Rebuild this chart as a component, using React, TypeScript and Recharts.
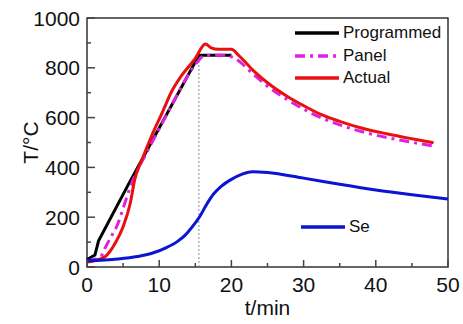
import { LineChart, Line, XAxis, YAxis, ReferenceArea, ReferenceLine, Label } from "recharts";

const progT = [0, 1.1, 1.6, 5.7, 15.5, 20];
const progV = [30, 48, 105, 330, 850, 850];

const panelT = [0, 1, 2, 2.5, 3.3, 4.1, 5.3, 6, 7, 8, 10, 12, 14, 15.2, 16.3, 19, 20.5, 23, 25, 27.7, 30, 32.3, 35, 38, 41.5, 45, 48];
const panelV = [25, 30, 45, 76, 120, 162, 262, 322, 390, 445, 555, 665, 770, 820, 850, 850, 838, 775, 726, 673, 634, 601, 571, 544, 520, 501, 486];

const actualT = [0, 1, 2.5, 3.9, 5, 6, 6.6, 7.6, 9, 10.5, 11.7, 13, 15, 16.4, 17.2, 18.2, 20, 21, 23, 25, 27.7, 30, 32.3, 35, 38, 41.5, 45, 48];
const actualV = [20, 25, 41, 95, 162, 257, 350, 430, 530, 625, 704, 765, 838, 896, 880, 874, 874, 850, 790, 740, 686, 648, 614, 585, 558, 535, 515, 499];

const seT = [0, 4.3, 7, 9, 11, 12.5, 13.6, 14.6, 15.6, 16.5, 17.5, 18.5, 20, 21.5, 22.9, 25, 30, 35, 40, 45, 50];
const seV = [25, 32, 42, 55, 78, 102, 128, 162, 202, 248, 292, 322, 352, 373, 383, 380, 357, 332, 309, 290, 273];

const xTicks = [0, 5, 10, 15, 20, 25, 30, 35, 40, 45, 50];
const yTicks = [0, 100, 200, 300, 400, 500, 600, 700, 800, 900, 1000];
const holdStart = 15.5;
const holdTemp = 850;

const series = [
  { name: "Programmed", t: progT, v: progV, color: "#000000", dash: undefined },
  { name: "Panel", t: panelT, v: panelV, color: "#e020e0", dash: "10 5 3 5" },
  { name: "Actual", t: actualT, v: actualV, color: "#e81010", dash: undefined },
  { name: "Se", t: seT, v: seV, color: "#0a14d2", dash: undefined },
];

const toRows = (t: number[], v: number[]) => t.map((x, i) => ({ t: x, v: v[i] }));

const FONT = "'Liberation Sans', Arial, sans-serif";

const XTick = (props: any) => {
  const { x, y, payload } = props;
  const major = payload.value % 10 === 0;
  return (
    <g>
      <line x1={x} x2={x} y1={y} y2={y - (major ? 7 : 4)} stroke="#444" strokeWidth={1.5} />
      {major && (
        <text x={x} y={y + 25} textAnchor="middle" fontSize={21} fontFamily={FONT} fill="#111">
          {payload.value}
        </text>
      )}
    </g>
  );
};

const YTick = (props: any) => {
  const { x, y, payload } = props;
  const major = payload.value % 200 === 0;
  return (
    <g>
      <line x1={x} x2={x + (major ? 8 : 4)} y1={y} y2={y} stroke="#444" strokeWidth={1.5} />
      {major && (
        <text x={x - 7} y={y} dy="0.36em" textAnchor="end" fontSize={21} fontFamily={FONT} fill="#111">
          {payload.value}
        </text>
      )}
    </g>
  );
};

const LegendRow = ({ name, color, dash, top, left }: any) => (
  <div style={{ position: "absolute", top: top - 11, left, display: "flex", alignItems: "center", height: 22 }}>
    <svg width={44} height={8}>
      <line x1={0} x2={44} y1={4} y2={4} stroke={color} strokeWidth={3.5} strokeDasharray={dash} />
    </svg>
    <span style={{ marginLeft: 4, fontSize: 17, fontFamily: FONT, color: "#111" }}>{name}</span>
  </div>
);

export default function App() {
  return (
    <div style={{ position: "absolute", top: 0, left: 0, width: 463, height: 324, background: "#fff" }}>
      <LineChart width={463} height={324} margin={{ top: 18, right: 15, bottom: 0, left: 0 }}>
        <XAxis
          dataKey="t"
          type="number"
          domain={[0, 50]}
          ticks={xTicks}
          interval={0}
          tickSize={0}
          tickMargin={0}
          tickLine={false}
          axisLine={false}
          tick={XTick}
          height={57}
        >
          <Label
            content={(p: any) => (
              <text
                x={p.viewBox.x + p.viewBox.width / 2}
                y={p.viewBox.y + 48}
                textAnchor="middle"
                fontSize={21}
                fontFamily={FONT}
                fill="#111"
              >
                t/min
              </text>
            )}
          />
        </XAxis>
        <YAxis
          type="number"
          domain={[0, 1000]}
          ticks={yTicks}
          interval={0}
          tickSize={0}
          tickMargin={0}
          tickLine={false}
          axisLine={false}
          tick={YTick}
          width={87}
        >
          <Label
            content={(p: any) => {
              const cx = p.viewBox.x + 30;
              const cy = p.viewBox.y + p.viewBox.height / 2;
              return (
                <text
                  x={cx}
                  y={cy}
                  transform={`rotate(-90 ${cx} ${cy})`}
                  textAnchor="middle"
                  dominantBaseline="central"
                  fontSize={21}
                  fontFamily={FONT}
                  fill="#111"
                >
                  T/°C
                </text>
              );
            }}
          />
        </YAxis>
        <ReferenceLine
          segment={[
            { x: holdStart, y: 0 },
            { x: holdStart, y: holdTemp },
          ]}
          stroke="#888"
          strokeDasharray="2 2"
          strokeWidth={1}
        />
        {series.map((s) => (
          <Line
            key={s.name}
            data={toRows(s.t, s.v)}
            dataKey="v"
            name={s.name}
            type={s.name === "Programmed" ? "linear" : "monotone"}
            stroke={s.color}
            strokeWidth={3}
            strokeDasharray={s.dash}
            dot={false}
            activeDot={false}
            isAnimationActive={false}
          />
        ))}
        <ReferenceArea x1={0} x2={50} y1={0} y2={1000} fill="none" stroke="#333" strokeWidth={1.5} />
      </LineChart>
      <LegendRow name="Programmed" color={series[0].color} top={33} left={295} />
      <LegendRow name="Panel" color={series[1].color} dash={series[1].dash} top={56} left={295} />
      <LegendRow name="Actual" color={series[2].color} top={78} left={295} />
      <LegendRow name="Se" color={series[3].color} top={227} left={301} />
    </div>
  );
}
